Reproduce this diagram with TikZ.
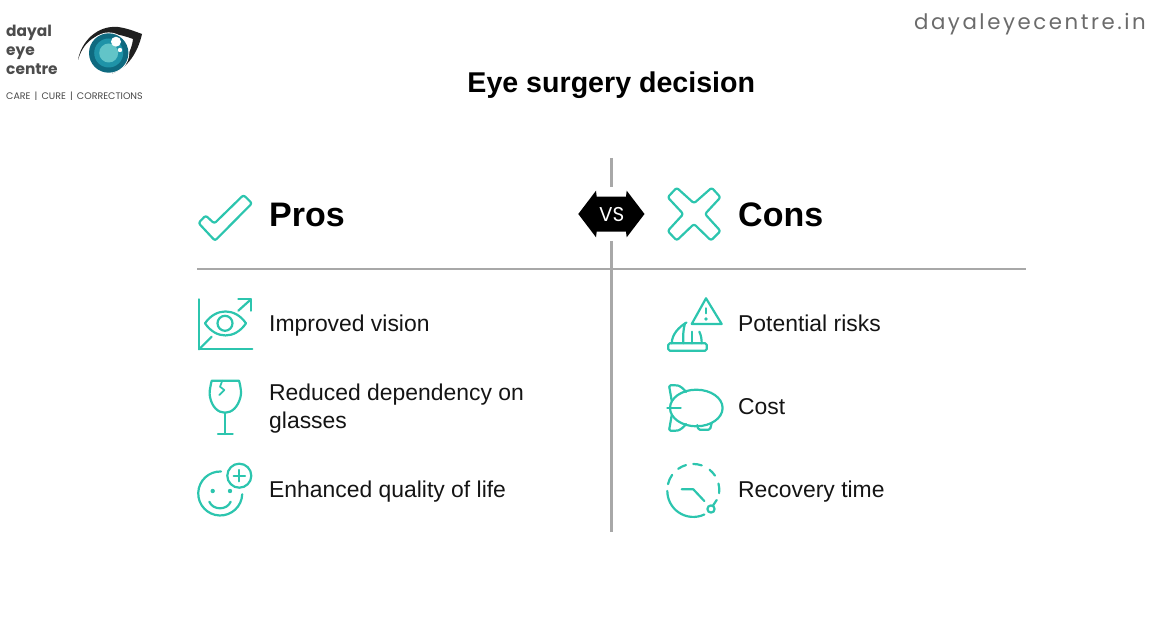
\documentclass[tikz,border=0pt]{standalone}
\usetikzlibrary{calc}
\usepackage{fontspec}
\setmainfont{Liberation Sans}
\newfontfamily\pop{Poppins}
\newfontfamily\popsp[LetterSpace=12]{Poppins}
\definecolor{teal1}{HTML}{2CC5AE}
\definecolor{rule1}{HTML}{A8A8A8}
\definecolor{irisa}{HTML}{0F6A80}
\definecolor{irisb}{HTML}{1F93A8}
\definecolor{irisc}{HTML}{62C4C8}
\tikzset{
  ico/.style={draw=teal1,line width=2.2pt,line cap=round,line join=round},
  rulel/.style={draw=rule1,line width=2.4pt},
  body/.style={anchor=base west,font=\fontsize{22.9}{28}\selectfont,text=black!92,inner sep=0pt,align=left},
  head/.style={anchor=base west,font=\fontsize{34}{40}\selectfont\bfseries,text=black,inner sep=0pt},
  logot/.style={anchor=base west,font=\pop\bfseries\fontsize{15.4}{18}\selectfont,text=black!70,inner sep=0pt}
}
\begin{document}
\begin{tikzpicture}[x=1pt,y=-1pt]
\useasboundingbox (0,0) rectangle (1170,628);
% rules
\coordinate (v1) at (611.3,158); \coordinate (v2) at (611.3,187);
\coordinate (v3) at (611.3,241); \coordinate (v4) at (611.3,532);
\coordinate (h1) at (197,269); \coordinate (h2) at (1026,269);
\draw[rulel] (v1) -- (v2);
\draw[rulel] (v3) -- (v4);
\draw[rulel] (h1) -- (h2);
% VS badge
\fill[black] (578.3,214) -- (596,190.7) -- (596.7,196.7) -- (626,196.7) -- (626.7,190.7) -- (644.5,214) -- (626.7,237.3) -- (626,231.7) -- (596.7,231.7) -- (596,237.3) -- cycle;
\node[text=white,inner sep=0pt,font=\pop\fontsize{20}{22}\selectfont] (vs) at (611.7,214.5) {VS};
% text
\node[anchor=base,inner sep=0pt,font=\fontsize{28.6}{32}\selectfont\bfseries] (title) at (611.3,92.3) {Eye surgery decision};
\node[head] (pros) at (269,227) {Pros};
\node[head] (cons) at (738,227) {Cons};
\node[body] (p1) at (269,331.5) {Improved vision};
\node[body] (p2a) at (269,400) {Reduced dependency on};
\node[body] (p2b) at (269,428) {glasses};
\node[body] (p3) at (269,497) {Enhanced quality of life};
\node[body] (c1) at (738,331.5) {Potential risks};
\node[body] (c2) at (738,414) {Cost};
\node[body] (c3) at (738,497) {Recovery time};
\node[anchor=base east,inner sep=0pt,text=black!58,font=\popsp\fontsize{21.3}{26}\selectfont] (web) at (1146,30) {dayaleyecentre.in};
% logo text
\node[logot] (l1) at (6,37) {dayal};
\node[logot] (l2) at (6,56) {eye};
\node[logot] (l3) at (6,75) {centre};
\node[anchor=base west,inner sep=0pt,text=black!72,font=\pop\fontsize{9.5}{11}\selectfont] (l4) at (6,99.5) {CARE\, |\, CURE\, |\, CORRECTIONS};
% logo eye
\fill[black!88] (78,60) .. controls (81,42) and (97,25) .. (118,27) .. controls (126,28) and (134,31) .. (142,34) .. controls (138,52) and (128,68) .. (112,73.5) .. controls (124,66) and (132,50) .. (133,39) .. controls (120,34) and (104,31) .. (95,37) .. controls (86,42) and (81,50) .. (78,60) -- cycle;
\fill[white] (108.7,53) circle (20.6);
\fill[irisa] (108.7,53) circle (19.7);
\fill[irisb] (108.7,53) circle (14.5);
\fill[irisc] (108.7,53) circle (9.5);
\fill[white] (116,41.7) circle (5);
\fill[white] (120,50) circle (2.2);
% check
\draw[ico,rounded corners=2.2pt] (215,240.7) -- (198.5,223) -- (205.7,215.5) -- (214.3,223.5) -- (243.5,195) -- (252,203.3) -- cycle;
% cross
\draw[ico,rounded corners=2.2pt] (694,203.3) -- (711.7,187.7) -- (720.5,197.3) -- (705,214) -- (720.5,231) -- (711,240.5) -- (694,224) -- (676.7,240.5) -- (667.7,231) -- (683.3,214) -- (667.7,197.3) -- (676.7,187.7) -- cycle;
% improved vision
\draw[ico] (199,299.3) -- (199,349.3) -- (252.3,349.3);
\draw[ico] (199,349.3) -- (211.7,336.7);
\draw[ico] (238.3,310.7) -- (251,299.3);
\draw[ico] (238.3,299.3) -- (251,299.3) -- (251,310.7);
\draw[ico] (205,323.3) .. controls (216,307.5) and (235,307.5) .. (246,323.3) .. controls (235,339.5) and (216,339.5) .. (205,323.3) -- cycle;
\draw[ico] (225,323.3) circle (7.5);
% wine glass
\draw[ico] (211.7,380.7) -- (239,380.7) .. controls (241,388) and (241.5,393) .. (240.5,397) .. controls (238,407) and (232,412.7) .. (225,412.7) .. controls (218,412.7) and (212,407) .. (210,397) .. controls (209,393) and (210,388) .. (211.7,380.7) -- cycle;
\draw[ico] (225,412.7) -- (225,434);
\draw[ico] (218,434) -- (232.7,434);
\draw[ico,line width=1.7pt] (222.3,380.7) -- (220,386.7) -- (224.3,390) -- (219.3,395);
% smiley
\draw[ico] (221,471.5) arc[start angle=-88,end angle=-358,radius=22];
\draw[ico] (239.3,475.7) circle (12);
\draw[ico] (233.6,475.7) -- (245,475.7);
\draw[ico] (239.3,470) -- (239.3,481.4);
\fill[teal1] (212.7,491) circle (2.2);
\fill[teal1] (230,491) circle (2.2);
\draw[ico] (209.3,501.7) .. controls (213,510.5) and (227,510.5) .. (230.7,501.7);
% risks
\draw[ico] (706,298.3) -- (721.7,324) -- (691.7,324) -- cycle;
\draw[ico] (706,308.3) -- (706,313.3);
\fill[teal1] (706,319) circle (1.9);
\draw[ico,rounded corners=1.5pt] (668.3,343.3) rectangle (706.7,350.7);
\draw[ico] (671.7,343.3) .. controls (672,334) and (679,327) .. (686.5,322.5);
\draw[ico] (685,323.3) .. controls (683,330) and (683,337) .. (683.3,343.3);
\draw[ico] (691.7,331.7) -- (691.7,343.3);
\draw[ico] (699.3,331.7) .. controls (701,335) and (701.7,339) .. (701.7,343.3);
% airship
\draw[ico] (696.3,408) ellipse [x radius=26.3,y radius=18.3];
\draw[ico] (667.3,408) -- (680.7,408);
\draw[ico,rounded corners=1.5pt] (671.7,400.7) -- (669,385.3) -- (676.7,385.3) .. controls (680,386) and (684,389) .. (686,392);
\draw[ico,rounded corners=1.5pt] (671.7,415.3) -- (669,430.7) -- (676.7,430.7) .. controls (680,430) and (684,427) .. (686,424);
\draw[ico,rounded corners=1.5pt] (697.3,425) -- (698.3,429.7) -- (710,429.7) -- (711.7,423);
% recovery
\draw[ico] (704.3,514.5) arc[start angle=65,end angle=180,radius=26];
\foreach \a/\b in {193/215.6,234.5/253.7,270/289,308.7/326.5,345.6/367}{
  \draw[ico] ($(693.3,490)+(\a:26)$) arc[start angle=\a,end angle=\b,radius=26];
}
\draw[ico] (716.7,500) -- (713,505.5);
\draw[ico] (711,509) circle (3.6);
\draw[ico] (681.7,489.3) -- (693.3,489.3) -- (704.3,501);
\end{tikzpicture}
\end{document}
